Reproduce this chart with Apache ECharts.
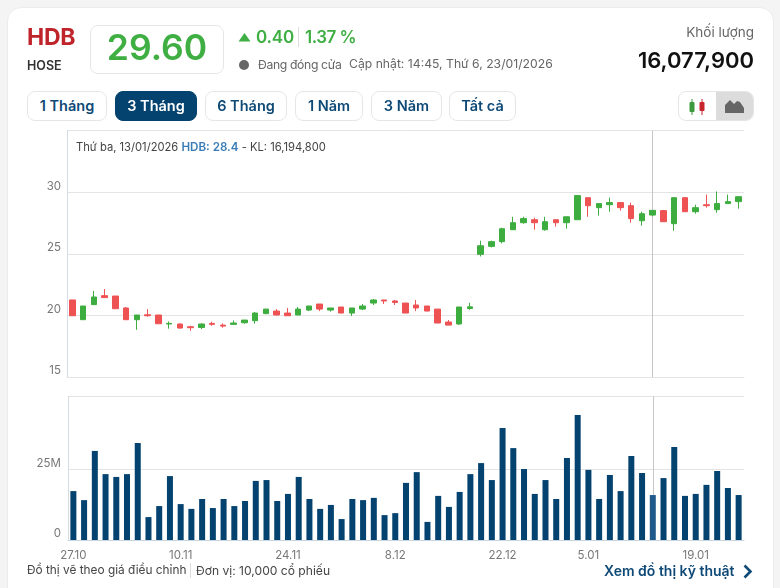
<!DOCTYPE html>
<html lang="vi">
<head>
<meta charset="utf-8">
<title>HDB</title>
<script src="https://cdn.jsdelivr.net/npm/echarts@6/dist/echarts.min.js"></script>
<style>
  html, body { margin: 0; padding: 0; background: #f4f4f4; font-family: Inter, "Noto Sans", sans-serif; }
  body { position: relative; width: 780px; height: 588px; overflow: hidden; }
  .card { position: absolute; left: 7px; top: 7px; width: 767px; height: 600px; background: #fff; border: 1px solid #ececec; border-radius: 14px; box-sizing: border-box; }
  .chart { position: absolute; left: 0; top: 0; width: 780px; height: 588px; }
  .t { position: absolute; white-space: nowrap; line-height: 1; }
  .btn { position: absolute; top: 91px; height: 30px; box-sizing: border-box; border: 1px solid #e6e6e6; border-radius: 8px; background: #fff; color: #0f4a77; font-size: 14.5px; font-weight: 600; text-align: center; line-height: 28px; }
  .btn.on { background: #04426f; border-color: #04426f; color: #fff; }
</style>
</head>
<body>
<div class="card"></div>
<div class="chart" id="chart"></div>

<div class="t" style="left:27px;top:26px;font-size:23px;font-weight:700;color:#c0242b;letter-spacing:-.3px">HDB</div>
<div class="t" style="left:27px;top:60px;font-size:12.5px;font-weight:600;color:#333">HOSE</div>
<div style="position:absolute;left:90px;top:25px;width:134px;height:49px;box-sizing:border-box;border:1px solid #e6e6e6;border-radius:8px"></div>
<div class="t" style="left:90px;width:134px;text-align:center;top:30px;font-size:35.5px;font-weight:600;color:#3fae43">29.60</div>

<svg style="position:absolute;left:238px;top:33px" width="13" height="9"><path d="M6.5 0L12.5 8.500H.5Z" fill="#3fae43"/></svg>
<div class="t" style="left:256px;top:29px;font-size:17px;font-weight:600;color:#3fae43;letter-spacing:-.2px">0.40</div>
<div style="position:absolute;left:298px;top:27px;width:1px;height:20px;background:#ddd"></div>
<div class="t" style="left:305px;top:29px;font-size:17px;font-weight:600;color:#3fae43;letter-spacing:-.5px">1.37 %</div>
<div style="position:absolute;left:239px;top:60px;width:10px;height:10px;border-radius:50%;background:#666"></div>
<div class="t" style="left:258px;top:59px;font-size:12.2px;color:#666;letter-spacing:-.35px">Đang đóng cửa</div>
<div class="t" style="left:349px;top:58px;font-size:12.2px;color:#666">Cập nhật: 14:45, Thứ 6, 23/01/2026</div>
<div class="t" style="right:26px;top:26px;font-size:13.500px;color:#666">Khối lượng</div>
<div class="t" style="right:26px;top:49px;font-size:22px;font-weight:600;color:#111">16,077,900</div>

<div class="btn" style="left:27px;width:80px">1 Tháng</div>
<div class="btn on" style="left:115px;width:82px">3 Tháng</div>
<div class="btn" style="left:205px;width:82px">6 Tháng</div>
<div class="btn" style="left:295px;width:68px">1 Năm</div>
<div class="btn" style="left:371px;width:71px">3 Năm</div>
<div class="btn" style="left:449px;width:67px">Tất cả</div>

<!-- nut doi kieu do thi -->
<div style="position:absolute;left:678px;top:91px;width:76px;height:30px;box-sizing:border-box;border:1px solid #e6e6e6;border-radius:8px;overflow:hidden;background:#fff">
  <div style="position:absolute;left:37px;top:0;width:38px;height:30px;background:#dcdcdc"></div>
  <svg style="position:absolute;left:9px;top:5px" width="20" height="20">
    <path d="M4 2V18" stroke="#3a9a3c"/><rect x="1.500" y="5" width="5" height="10" rx="1" fill="#3a9a3c"/>
    <path d="M14 2V18" stroke="#c8242c"/><rect x="11.500" y="5" width="5" height="9" rx="1" fill="#c8242c"/>
  </svg>
  <svg style="position:absolute;left:46px;top:6px" width="20" height="17">
    <path d="M0 15V7L5 2L9 6L12 3L15 4L19 10V15Z" fill="#666"/>
  </svg>
</div>

<div class="t" style="left:27px;top:565px;font-size:11.85px;color:#444">Đồ thị vẽ theo giá điều chỉnh</div>
<div style="position:absolute;left:190px;top:563px;width:1px;height:15px;background:#ddd"></div>
<div class="t" style="left:196px;top:565px;font-size:12.1px;color:#444">Đơn vị: 10,000 cổ phiếu</div>
<div class="t" style="left:604px;top:564px;font-size:14px;font-weight:600;color:#0f4a77">Xem đồ thị kỹ thuật</div>
<svg style="position:absolute;left:742px;top:564px" width="11" height="15"><path d="M2.500 1.500L8.500 7.500L2.500 13.500" fill="none" stroke="#0f4a77" stroke-width="2.600"/></svg>

<script>
// du lieu
var dates = ['27.10','28.10','29.10','30.10','31.10','3.11','4.11','5.11','6.11','7.11',
  '10.11','11.11','12.11','13.11','14.11','17.11','18.11','19.11','20.11','21.11',
  '24.11','25.11','26.11','27.11','28.11','1.12','2.12','3.12','4.12','5.12',
  '8.12','9.12','10.12','11.12','12.12','15.12','16.12','17.12','18.12','19.12',
  '22.12','23.12','24.12','25.12','26.12','29.12','30.12','31.12',
  '5.01','6.01','7.01','8.01','9.01','12.01','13.01','14.01','15.01','16.01',
  '19.01','20.01','21.01','22.01','23.01'];
var tickDates = ['27.10', '10.11', '24.11', '8.12', '22.12', '5.01', '19.01'];
var opens = [21.25,19.65,20.87,21.6,21.57,20.6,19.65,20.05,20.03,19.3,
  19.3,19.08,19.02,19.35,19.21,19.27,19.4,19.57,20.14,20.35,
  20.19,20.03,20.43,20.92,20.43,20.68,20.19,20.51,21,21.25,
  21.17,21,20.84,20.76,20.51,19.46,19.3,20.56,24.95,25.6,
  25.98,26.95,27.52,27.76,26.95,27.76,27.52,27.76,29.55,28.74,
  28.98,29.15,28.9,27.68,28.14,28.5,27.44,29.55,28.41,28.98,
  28.58,29.07,29.23];
var closes = [19.97,20.76,21.49,21.44,20.54,19.65,20.03,19.97,19.32,19.35,
  18.97,19,19.3,19.27,19.13,19.38,19.62,20.19,20.51,20.03,
  19.97,20.51,20.76,20.51,20.6,20.19,20.6,20.76,21.25,21.17,
  21.05,20.19,20.6,20.35,19.38,19.21,20.68,20.69,25.65,25.98,
  27.03,27.52,27.85,27.52,27.6,27.52,28,29.72,28.9,29.07,
  29.15,28.74,27.85,28.25,28.52,27.6,29.55,28.41,28.74,28.9,
  29.07,29.23,29.63];
var lows = [19.97,19.65,20.87,21.44,20.54,19.65,18.83,19.89,19.32,18.92,
  18.92,18.75,18.89,19.16,19,19.24,19.32,19.32,20.14,20,
  19.97,20.03,20.35,20.35,20.3,20.19,19.95,20.43,20.84,20.92,
  20.84,20.19,20.35,20.35,19.38,19.21,19.24,20.45,24.78,25.51,
  25.84,26.95,27.44,26.95,26.87,27.2,27.03,27.76,28,28.09,
  28.41,28.5,27.52,27.28,28.03,27.6,26.87,28.41,28.25,28.74,
  28.33,29.07,28.66];
var highs = [21.25,20.76,21.98,22.14,21.57,20.68,20.03,20.51,20.03,19.51,
  19.35,19.16,19.35,19.49,19.35,19.59,19.62,20.27,20.51,20.51,
  20.6,20.68,20.76,20.92,20.6,20.68,20.6,20.92,21.33,21.25,
  21.25,21,21.25,20.76,20.51,19.62,20.68,21.02,26.06,26.06,
  27.11,28,28,27.93,28,27.76,28,29.72,29.55,29.07,
  29.55,29.2,29.15,28.41,28.52,28.5,29.55,29.55,28.98,29.8,
  30.05,29.8,29.63];
var volumes = [17.3,14.1,31.5,23.3,22.3,23.3,34.3,8.1,12,22.6,
  12.7,11,14.5,11.3,14.5,12,13.8,20.9,21.2,13.8,
  16.3,22.3,14.5,11,12.4,7.4,14.5,14.1,14.9,8.8,
  9.5,20.2,24,6.4,15.6,11.7,17,23.3,27.2,21.2,
  39.6,32.5,25.1,16.3,21.2,14.5,29,44.2,24.8,14.5,
  23,17.3,29.7,23.7,15.9,21.9,32.9,15.6,16.3,19.5,
  24.4,18.4,15.9];
var priceTicks = [15, 20, 25, 30];
var volumeTicks = [0, 25];
var activeDate = '13.01'; // phien dang tro chuot

(function () {
  var chart = echarts.init(document.getElementById('chart'));

  var red = '#ee5253';
  var green = '#3dad3f';
  var blue = '#04426f';
  var lineColor = '#e4e4e4';
  var activeIndex = dates.indexOf(activeDate);
  var isTick = function (i) { return tickDates.indexOf(dates[i]) >= 0; };

  var candles = opens.map(function (o, i) {
    return [o, closes[i], lows[i], highs[i]];
  });
  var bars = volumes.map(function (v, i) {
    return i === activeIndex ? { value: v, itemStyle: { color: '#205a8a' } } : v;
  });
  var cross = {
    silent: true,
    symbol: 'none',
    z: 1,
    label: { show: false },
    lineStyle: { color: '#c6c6c6', width: 1, type: 'solid' },
    data: [{ xAxis: activeIndex }]
  };

  var option = {
    animation: false,
    textStyle: { fontFamily: 'Inter' },
    title: {
      left: 76, top: 142, padding: 0,
      text: '{a|Thứ ba, 13/01/2026 }{b|HDB: 28.4}{a| - KL: 16,194,800}',
      textStyle: {
        fontWeight: 'normal',
        rich: {
          a: { fontFamily: 'Inter', fontSize: 11.2, fontWeight: 'normal', color: '#444' },
          b: { fontFamily: 'Inter', fontSize: 11.6, fontWeight: 600, color: '#3a7cb5' }
        }
      }
    },
    grid: [
      { left: 67, width: 677, top: 130.5, height: 246.5 },
      { left: 68, width: 676, top: 396.5, height: 143.5 }
    ],
    xAxis: [
      {
        type: 'category', gridIndex: 0, data: dates,
        axisLine: { lineStyle: { color: lineColor } },
        axisTick: { show: false },
        axisLabel: { show: false }
      },
      {
        type: 'category', gridIndex: 1, data: dates,
        axisLine: { lineStyle: { color: '#c9d6e2' } },
        axisTick: { alignWithLabel: true, interval: isTick, length: 4, lineStyle: { color: '#c9d6e2' } },
        axisLabel: { interval: isTick, color: '#777', fontSize: 11.5, margin: 10, fontFamily: 'Inter' }
      }
    ],
    yAxis: [
      {
        type: 'value', gridIndex: 0, min: 15, max: 35, interval: 5,
        axisLine: { show: true, lineStyle: { color: '#d3dbe3' } },
        axisTick: { show: false },
        axisLabel: {
          color: '#777', fontSize: 11.5, margin: 6, verticalAlign: 'bottom', fontFamily: 'Inter',
          formatter: function (v) { return priceTicks.indexOf(v) >= 0 ? v : ''; }
        },
        splitLine: { lineStyle: { color: lineColor } }
      },
      {
        type: 'value', gridIndex: 1, min: 0, max: 50.75,
        axisLine: { show: true, lineStyle: { color: '#d3dbe3' } },
        axisTick: { show: false, customValues: [0, 25, 50.75] },
        axisLabel: {
          customValues: volumeTicks,
          color: '#777', fontSize: 11.5, margin: 7, verticalAlign: 'bottom', fontFamily: 'Inter',
          formatter: function (v) { return v === 0 ? '0' : v + 'M'; }
        },
        splitLine: { lineStyle: { color: lineColor } }
      }
    ],
    series: [
      {
        type: 'candlestick', xAxisIndex: 0, yAxisIndex: 0,
        barWidth: 6,
        data: candles,
        itemStyle: { color: green, color0: red, borderColor: green, borderColor0: red, borderWidth: 1 },
        markLine: cross
      },
      {
        type: 'bar', xAxisIndex: 1, yAxisIndex: 1,
        barWidth: 6,
        data: bars,
        itemStyle: { color: blue },
        markLine: cross
      }
    ]
  };

  chart.setOption(option);
  window.addEventListener('resize', function () {
    chart.resize();
  });
})();
</script>
</body>
</html>
